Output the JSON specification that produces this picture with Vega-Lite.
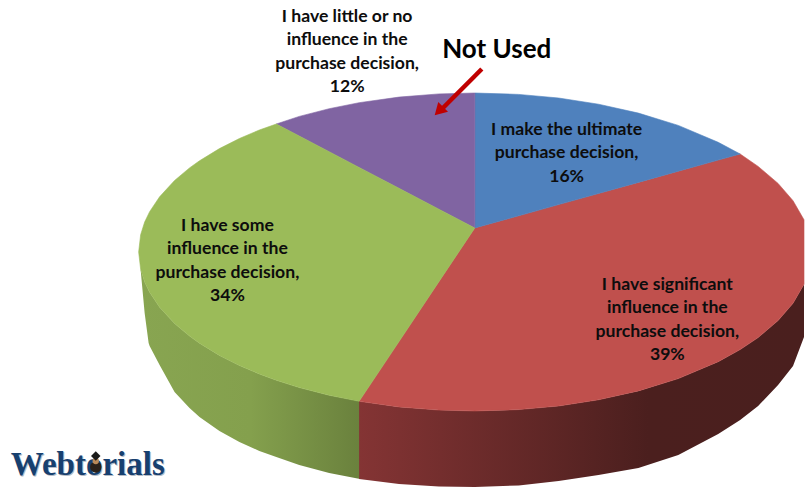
{"$schema":"https://vega.github.io/schema/vega-lite/v6.json","width":806,"height":487,"padding":0,"autosize":{"type":"fit","contains":"padding"},"background":"white","config":{"view":{"stroke":null}},
"datasets":{
"greenWall":[{"x":141,"y":269.3,"y2":270},{"x":145,"y":281.9,"y2":313},{"x":149,"y":290.3,"y2":343},{"x":150,"y":292.3,"y2":346},{"x":160,"y":307.2,"y2":365},{"x":175,"y":323.5,"y2":392},{"x":190,"y":336.1,"y2":408},{"x":200,"y":343.2,"y2":417},{"x":220,"y":355.4,"y2":431},{"x":240,"y":365.5,"y2":442},{"x":260,"y":374,"y2":451},{"x":277,"y":380.3,"y2":457},{"x":300,"y":387.6,"y2":465},{"x":330,"y":395.3,"y2":473},{"x":361,"y":401.3,"y2":479}],
"redWall":[{"x":360,"y":401.3,"y2":479},{"x":400,"y":406.9,"y2":484},{"x":440,"y":410.1,"y2":486.5},{"x":476,"y":411,"y2":487},{"x":520,"y":409.6,"y2":485.5},{"x":560,"y":406,"y2":481},{"x":600,"y":399.8,"y2":475},{"x":640,"y":390.9,"y2":468},{"x":680,"y":378.6,"y2":455},{"x":720,"y":361.7,"y2":434},{"x":742,"y":349.6,"y2":420},{"x":760,"y":337.6,"y2":406},{"x":780,"y":320.6,"y2":385},{"x":795,"y":303.3,"y2":366},{"x":806,"y":284.2,"y2":337}],
"slices":[
{"slice":"I have significant influence","x":360,"y":401.3,"y2":401.3},{"slice":"I have significant influence","x":400,"y":341.6,"y2":406.9},{"slice":"I have significant influence","x":440,"y":281.7,"y2":410.1},{"slice":"I have significant influence","x":476,"y":228,"y2":411},{"slice":"I have significant influence","x":520,"y":215.8,"y2":409.6},{"slice":"I have significant influence","x":560,"y":204.6,"y2":406},{"slice":"I have significant influence","x":600,"y":193.5,"y2":399.8},{"slice":"I have significant influence","x":640,"y":182.4,"y2":390.9},{"slice":"I have significant influence","x":680,"y":171.2,"y2":378.6},{"slice":"I have significant influence","x":720,"y":160.1,"y2":361.7},{"slice":"I have significant influence","x":742,"y":154,"y2":349.6},{"slice":"I have significant influence","x":760,"y":166.4,"y2":337.6},{"slice":"I have significant influence","x":780,"y":183.4,"y2":320.6},{"slice":"I have significant influence","x":795,"y":200.7,"y2":303.3},{"slice":"I have significant influence","x":806,"y":219.8,"y2":284.2},
{"slice":"I make the ultimate","x":476,"y":93,"y2":228},{"slice":"I make the ultimate","x":520,"y":94.4,"y2":215.8},{"slice":"I make the ultimate","x":560,"y":98,"y2":204.6},{"slice":"I make the ultimate","x":600,"y":104.2,"y2":193.5},{"slice":"I make the ultimate","x":640,"y":113.1,"y2":182.4},{"slice":"I make the ultimate","x":680,"y":125.4,"y2":171.2},{"slice":"I make the ultimate","x":720,"y":142.3,"y2":160.1},{"slice":"I make the ultimate","x":742,"y":154,"y2":154},
{"slice":"I have little or no influence","x":277,"y":124,"y2":124},{"slice":"I have little or no influence","x":300,"y":116.4,"y2":136},{"slice":"I have little or no influence","x":330,"y":108.7,"y2":151.7},{"slice":"I have little or no influence","x":360,"y":102.7,"y2":167.4},{"slice":"I have little or no influence","x":400,"y":97.1,"y2":188.3},{"slice":"I have little or no influence","x":440,"y":93.9,"y2":209.2},{"slice":"I have little or no influence","x":476,"y":93,"y2":228},
{"slice":"I have some influence","x":139,"y":252,"y2":252},{"slice":"I have some influence","x":141,"y":234.7,"y2":269.3},{"slice":"I have some influence","x":145,"y":222.1,"y2":281.9},{"slice":"I have some influence","x":150,"y":211.7,"y2":292.3},{"slice":"I have some influence","x":160,"y":196.8,"y2":307.2},{"slice":"I have some influence","x":175,"y":180.5,"y2":323.5},{"slice":"I have some influence","x":190,"y":167.9,"y2":336.1},{"slice":"I have some influence","x":200,"y":160.8,"y2":343.2},{"slice":"I have some influence","x":220,"y":148.6,"y2":355.4},{"slice":"I have some influence","x":240,"y":138.5,"y2":365.5},{"slice":"I have some influence","x":260,"y":130,"y2":374},{"slice":"I have some influence","x":277,"y":124,"y2":380.3},{"slice":"I have some influence","x":300,"y":136,"y2":387.6},{"slice":"I have some influence","x":330,"y":151.7,"y2":395.3},{"slice":"I have some influence","x":360,"y":167.4,"y2":401.3},{"slice":"I have some influence","x":400,"y":188.3,"y2":341.6},{"slice":"I have some influence","x":440,"y":209.2,"y2":281.7},{"slice":"I have some influence","x":476,"y":228,"y2":228}],
"labels":[
{"label":"I have little or no\ninfluence in the\npurchase decision,\n12%","share":12,"x":348,"y":17},
{"label":"I make the ultimate\npurchase decision,\n16%","share":16,"x":568,"y":130},
{"label":"I have significant\ninfluence in the\npurchase decision,\n39%","share":39,"x":669,"y":285},
{"label":"I have some\ninfluence in the\npurchase decision,\n34%","share":34,"x":228,"y":226}]},
"encoding":{"x":{"field":"x","type":"quantitative","scale":{"domain":[0,806]},"axis":null},"y":{"field":"y","type":"quantitative","scale":{"domain":[487,0]},"axis":null,"stack":null}},
"layer":[
{"data":{"name":"greenWall"},"mark":{"type":"area","color":{"gradient":"linear","x1":0,"x2":1,"y1":0,"y2":0,"stops":[{"offset":0,"color":"#88a551"},{"offset":0.5,"color":"#84a04d"},{"offset":1,"color":"#6a813d"}]}},"encoding":{"y2":{"field":"y2"}}},
{"data":{"name":"redWall"},"mark":{"type":"area","color":{"gradient":"linear","x1":0,"x2":1,"y1":0,"y2":0,"stops":[{"offset":0,"color":"#843434"},{"offset":0.65,"color":"#4b1f1e"},{"offset":1,"color":"#4a1f1e"}]}},"encoding":{"y2":{"field":"y2"}}},
{"data":{"name":"slices"},"mark":{"type":"area","strokeWidth":0.6},"encoding":{"y2":{"field":"y2"},"color":{"field":"slice","type":"nominal","legend":null,"scale":{"domain":["I make the ultimate","I have significant influence","I have some influence","I have little or no influence"],"range":["#4f81bd","#c0504d","#9bbb59","#8064a2"]}},"stroke":{"field":"slice","type":"nominal","legend":null,"scale":{"domain":["I make the ultimate","I have significant influence","I have some influence","I have little or no influence"],"range":["#4f81bd","#c0504d","#9bbb59","#8064a2"]}}}},
{"data":{"name":"labels"},"mark":{"type":"text","font":"Lato","fontWeight":"bold","fontSize":17.6,"lineHeight":23.3,"lineBreak":"\n","align":"center","baseline":"middle","color":"#0d0d0d"},"encoding":{"text":{"field":"label"}}},
{"data":{"values":[{"t":"Not Used","x":498,"y":50}]},"mark":{"type":"text","font":"Lato","fontWeight":"bold","fontSize":26,"align":"center","baseline":"middle","color":"#000000"},"encoding":{"text":{"field":"t"}}},
{"data":{"values":[{"x":483,"y":69,"x2":441,"y2":111}]},"mark":{"type":"rule","color":"#c00000","strokeWidth":4.5},"encoding":{"x2":{"field":"x2"},"y2":{"field":"y2"}}},
{"data":{"values":[{"x":440,"y":111}]},"mark":{"type":"point","shape":"triangle-up","filled":true,"opacity":1,"color":"#c00000","size":190,"angle":225},"encoding":{}},
{"data":{"values":[{"t":"Webtorials","x":89,"y":476}]},"mark":{"type":"text","font":"Liberation Serif","fontWeight":"bold","fontSize":33,"align":"center","baseline":"alphabetic","color":"#b5bcc6"},"encoding":{"text":{"field":"t"}}},
{"data":{"values":[{"t":"Webtorials","x":88,"y":475}]},"mark":{"type":"text","font":"Liberation Serif","fontWeight":"bold","fontSize":33,"align":"center","baseline":"alphabetic","color":"#17406f"},"encoding":{"text":{"field":"t"}}},
{"data":{"values":[{"x":96,"y":467}]},"mark":{"type":"point","shape":"circle","filled":true,"opacity":1,"color":"#2a211a","size":130},"encoding":{}},
{"data":{"values":[{"x":96,"y":461}]},"mark":{"type":"point","shape":"circle","filled":true,"opacity":1,"color":"#b98a5a","size":40},"encoding":{}},
{"data":{"values":[{"x":96,"y":456}]},"mark":{"type":"point","shape":"diamond","filled":true,"opacity":1,"color":"#1a1a1a","size":90},"encoding":{}}
]}
